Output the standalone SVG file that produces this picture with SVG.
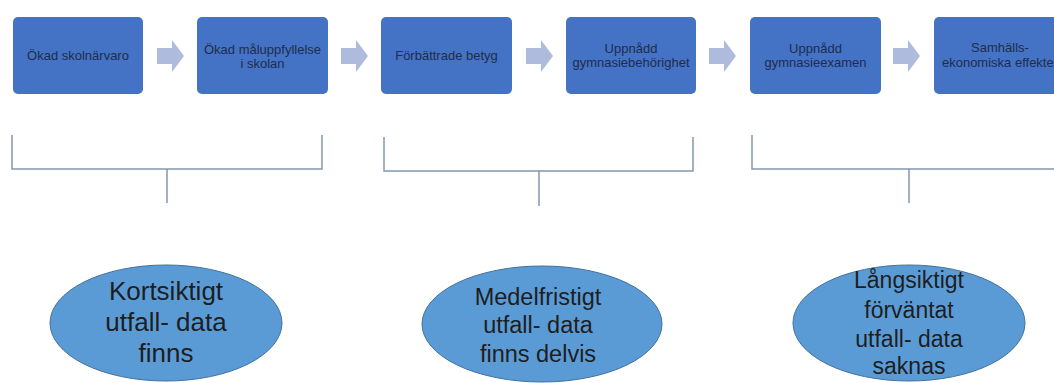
<svg xmlns="http://www.w3.org/2000/svg" width="1054" height="383" viewBox="0 0 1054 383">
<style>
.box{fill:#4472C4;}
.bt{font-family:"Liberation Sans",Arial,sans-serif;font-size:13px;fill:#1F2D4E;text-anchor:middle;}
.arr{fill:#AEBBDD;}
.br{fill:none;stroke:#8497B0;stroke-width:1.5;}
.ell{fill:#5B9BD5;stroke:#41719C;stroke-width:1;}
.et{font-family:"Liberation Sans",Arial,sans-serif;fill:#1E1E1E;text-anchor:middle;}
</style>
<defs>
<polygon id="arrow" points="0,8 15,8 15,0 27,16 15,32 15,24 0,24"/>
</defs>
<rect width="1054" height="383" fill="#FFFFFF"/>
<g id="n1"><rect class="box" x="13" y="17" width="130" height="77" rx="5"/><text class="bt" x="78" y="60">Ökad skolnärvaro</text></g>
<g id="n2"><rect class="box" x="197" y="17" width="131" height="77" rx="5"/><text class="bt" x="262.5" y="54">Ökad måluppfyllelse</text><text class="bt" x="262.5" y="68">i skolan</text></g>
<g id="n3"><rect class="box" x="381" y="17" width="131" height="77" rx="5"/><text class="bt" x="446.5" y="60">Förbättrade betyg</text></g>
<g id="n4"><rect class="box" x="566" y="17" width="130" height="77" rx="5"/><text class="bt" x="631" y="53">Uppnådd</text><text class="bt" x="631" y="67">gymnasiebehörighet</text></g>
<g id="n5"><rect class="box" x="750" y="17" width="131" height="77" rx="5"/><text class="bt" x="815.5" y="53">Uppnådd</text><text class="bt" x="815.5" y="67">gymnasieexamen</text></g>
<g id="n6"><rect class="box" x="934" y="17" width="131" height="77" rx="5"/><text class="bt" x="1000" y="52">Samhälls-</text><text class="bt" x="1000" y="67">ekonomiska effekter</text></g>
<g id="connectors">
<use href="#arrow" class="arr" x="157" y="40"/>
<use href="#arrow" class="arr" x="341" y="40"/>
<use href="#arrow" class="arr" x="526" y="40"/>
<use href="#arrow" class="arr" x="709" y="40"/>
<use href="#arrow" class="arr" x="893" y="40"/>
<path class="br" d="M12,135 V169 H322 V135 M167,169 V203"/>
<path class="br" d="M384,137 V171 H693 V137 M539,171 V206"/>
<path class="br" d="M752,135 V169 H1060 M909,169 V203"/>
</g>
<g id="e1"><ellipse class="ell" cx="166" cy="323" rx="116" ry="58"/>
<text class="et" font-size="26" x="166" y="300">Kortsiktigt</text><text class="et" font-size="26" x="166" y="331">utfall- data</text><text class="et" font-size="26" x="166" y="362">finns</text></g>
<g id="e2"><ellipse class="ell" cx="542" cy="324" rx="120" ry="58"/>
<text class="et" font-size="23.5" x="538" y="305">Medelfristigt</text><text class="et" font-size="23.5" x="538" y="333">utfall- data</text><text class="et" font-size="23.5" x="538" y="362">finns delvis</text></g>
<g id="e3"><ellipse class="ell" cx="909" cy="323" rx="116" ry="58"/>
<text class="et" font-size="23" x="909" y="288">Långsiktigt</text><text class="et" font-size="23" x="909" y="318">förväntat</text><text class="et" font-size="23" x="909" y="347">utfall- data</text><text class="et" font-size="23" x="909" y="374">saknas</text></g>
</svg>
